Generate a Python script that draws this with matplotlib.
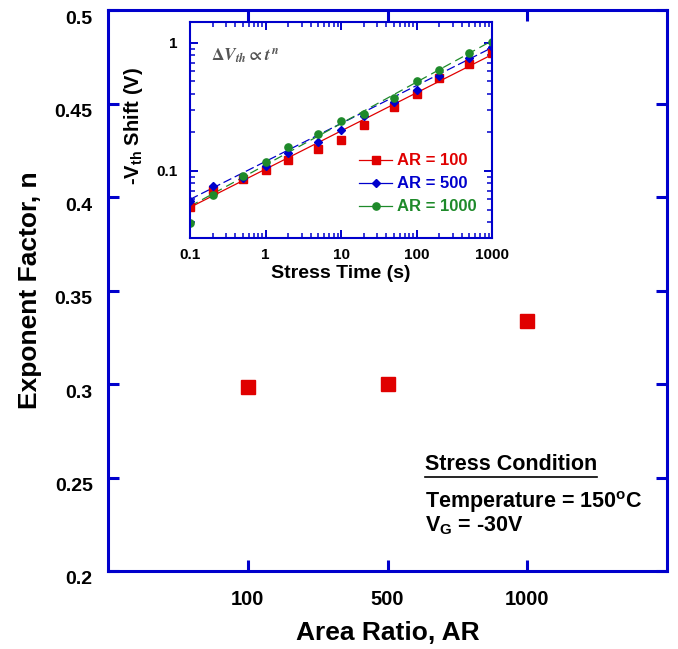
import numpy as np
import matplotlib
matplotlib.use('Agg')
import matplotlib.pyplot as plt
import matplotlib.ticker as ticker
import matplotlib.transforms as mtransforms
from matplotlib.lines import Line2D

plt.rcParams['font.family'] = 'Liberation Sans'
plt.rcParams['font.weight'] = 'bold'
plt.rcParams['mathtext.fontset'] = 'custom'
plt.rcParams['mathtext.rm'] = 'Liberation Sans:bold'
plt.rcParams['mathtext.bf'] = 'Liberation Sans:bold'
plt.rcParams['mathtext.it'] = 'Liberation Sans:bold:italic'

BLUE = '#0000CC'
COLORS = {'100': '#E00000', '500': '#0000CC', '1000': '#1E8A2A'}

# exponent n extracted for each area ratio
ar_labels = ['100', '500', '1000']
n_values = [0.2984, 0.3002, 0.3337]

# threshold voltage shift vs stress time (inset)
stress_time = [0.1, 0.2, 0.5, 1, 2, 5, 10, 20, 50, 100, 200, 500, 1000]
dvth_ar100 = [0.0523, 0.0712, 0.0867, 0.1018, 0.1217, 0.148, 0.175, 0.230,
              0.315, 0.395, 0.526, 0.684, 0.832]
dvth_ar500 = [0.0578, 0.0760, 0.0880, 0.1087, 0.138, 0.1668, 0.208, 0.2685,
              0.344, 0.425, 0.548, 0.760, 0.920]
dvth_ar1000 = [0.0393, 0.0655, 0.0910, 0.1167, 0.1535, 0.1935, 0.2455, 0.280,
               0.3727, 0.507, 0.618, 0.832, 1.012]

# power-law fit lines, end values at t = 0.1 s and t = 1000 s
fit_time = [0.1, 1000]
fit_ar100 = [0.052, 0.807]
fit_ar500 = [0.060, 0.915]
fit_ar1000 = [0.053, 1.035]

W, H = 678, 649
fig = plt.figure(figsize=(W / 100, H / 100), dpi=100)

# ---- main axes: n vs area ratio ----
ax = fig.add_axes([108 / W, 1 - 571 / H, (667 - 108) / W, (571 - 10) / H])
pos = np.arange(1, len(ar_labels) + 1)
ax.plot(pos, n_values, 's', color=COLORS['100'], ms=10, mec=COLORS['100'],
        linestyle='none')
ax.set_xlim(0, 4)
ax.set_ylim(0.2, 0.5)
ax.set_xticks(pos)
ax.set_xticklabels(ar_labels)
ax.set_yticks(np.arange(0.2, 0.501, 0.05))
ax.yaxis.set_major_formatter(ticker.FuncFormatter(lambda v, p: f'{v:g}'))
for s in ax.spines.values():
    s.set_color(BLUE)
    s.set_linewidth(2.2)
ax.tick_params(direction='in', length=8, width=2.2, color=BLUE,
               top=True, right=True, labelsize=14)
ax.tick_params(axis='x', labelsize=14.5, pad=14)
ax.tick_params(axis='y', pad=11)
ax.set_xlabel('Area Ratio, AR', fontsize=19, fontweight='bold', labelpad=8)
ax.set_ylabel('Exponent Factor, n', fontsize=19, fontweight='bold', labelpad=9)

# y tick labels sit a little below their ticks
shift = mtransforms.ScaledTranslation(0, -7 / 100, fig.dpi_scale_trans)
for tk in ax.yaxis.get_major_ticks():
    tk.label1.set_transform(tk.label1.get_transform() + shift)

# stress condition note
note_x = 425 / W
t_head = fig.text(note_x, 1 - 465 / H, 'Stress Condition', fontsize=15.5,
                  fontweight='bold', va='center')
fig.text(note_x, 1 - 502 / H, r'Temperature = 150$^{\mathrm{o}}$C',
         fontsize=15.5, fontweight='bold', va='center')
fig.text(note_x, 1 - 526 / H, r'V$_{\mathrm{G}}$ = -30V', fontsize=15.5,
         fontweight='bold', va='center')

# ---- inset: Vth shift vs time ----
ins = fig.add_axes([190 / W, 1 - 238 / H, (492 - 190) / W, (238 - 22) / H])
ins.set_xscale('log')
ins.set_yscale('log')
ins.plot(fit_time, fit_ar100, '-', color=COLORS['100'], lw=0.9)
ins.plot(fit_time, fit_ar500, '--', color=COLORS['500'], lw=0.9, dashes=(7, 3))
ins.plot(fit_time, fit_ar1000, '--', color=COLORS['1000'], lw=0.9, dashes=(7, 4))
ins.plot(stress_time, dvth_ar100, 's', color=COLORS['100'], ms=5.5,
         mec=COLORS['100'])
ins.plot(stress_time, dvth_ar500, 'D', color=COLORS['500'], ms=3.6,
         mec=COLORS['500'])
ins.plot(stress_time, dvth_ar1000, 'o', color=COLORS['1000'], ms=5.2,
         mec=COLORS['1000'])
ins.set_xlim(0.1, 1000)
ins.set_ylim(0.03, 1.45)
fmt = ticker.FuncFormatter(lambda v, p: f'{v:g}')
ins.xaxis.set_major_formatter(fmt)
ins.yaxis.set_major_formatter(fmt)
ins.xaxis.set_minor_formatter(ticker.NullFormatter())
ins.yaxis.set_minor_formatter(ticker.NullFormatter())
for s in ins.spines.values():
    s.set_color(BLUE)
    s.set_linewidth(1.5)
ins.tick_params(which='both', direction='in', color=BLUE, top=True,
                right=True, labelsize=11)
ins.tick_params(which='major', length=6, width=1.4)
ins.tick_params(which='minor', length=3.5, width=1.1)
ins.tick_params(axis='x', pad=7)
ins.tick_params(axis='y', pad=9)
ins.set_xlabel('Stress Time (s)', fontsize=14, fontweight='bold', labelpad=2)
ins.set_ylabel(r'-V$_{\mathrm{th}}$ Shift (V)', fontsize=14.5,
               fontweight='bold')
ins.yaxis.set_label_coords(-0.15, 0.52)
ins.text(0.07, 0.84, r'$\Delta V_{th} \propto t^n$', transform=ins.transAxes,
         fontsize=12.5, math_fontfamily='stix', color='#555555',
         fontweight='normal', va='center')

handles = [
    Line2D([], [], color=COLORS['100'], marker='s', ms=5.5, lw=0.9),
    Line2D([], [], color=COLORS['500'], marker='D', ms=3.6, lw=0.9),
    Line2D([], [], color=COLORS['1000'], marker='o', ms=5.2, lw=0.9),
]
leg = ins.legend(handles, [f'AR = {a}' for a in ar_labels], loc='lower right',
                 frameon=False, fontsize=12, handlelength=2.0,
                 handletextpad=0.3, labelspacing=0.48,
                 bbox_to_anchor=(1.0, 0.04))
for txt, a in zip(leg.get_texts(), ar_labels):
    txt.set_color(COLORS[a])
    txt.set_fontweight('bold')

# underline the note heading
fig.canvas.draw()
bb = t_head.get_window_extent()
y_ul = (bb.y0 - 1) / H
fig.add_artist(Line2D([bb.x0 / W, bb.x1 / W], [y_ul, y_ul], color='black',
                      lw=1.2, transform=fig.transFigure))

fig.savefig('out.png', dpi=100)
